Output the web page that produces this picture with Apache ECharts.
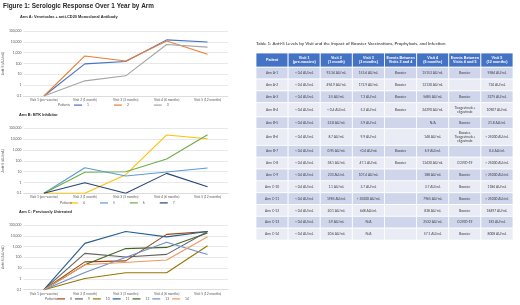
<!DOCTYPE html>
<html><head><meta charset="utf-8">
<script src="https://cdn.jsdelivr.net/npm/echarts@6/dist/echarts.min.js"></script>
<style>html,body{margin:0;padding:0;background:#fff}#c{width:520px;height:305px}</style>
</head><body><div id="c"></div>
<script>
// ---- chart data ----
const visits = ['Visit 1 (pre-vaccine)', 'Visit 2 (1 month)', 'Visit 3 (3 months)', 'Visit 4 (6 months)', 'Visit 5 (12 months)'];
const armAPatients = ['1', '2', '3'];
const patient1 = [0.1, 92.34, 153.6, 15153, 9584];
const patient2 = [0.1, 494.9, 172.9, 12130, 724];
const patient3 = [0.1, 2.5, 7.3, 5685, 3275];
const armBPatients = ['4', '5', '6', '7'];
const patient4 = [0.1, 0.1, 5.2, 24290, 10907];
const patient5 = [0.1, 22.8, 3.9, null, 21.8];
const patient6 = [0.1, 8.7, 9.9, 148, 25000];
const patient7 = [0.1, 0.95, 0.1, 6.9, 0.4];
const armCPatients = ['8', '9', '10', '11', '12', '13', '14'];
const patient8 = [0.1, 38.1, 47.1, 13430, 25000];
const patient9 = [0.1, 233, 107.4, 188, 25000];
const patient10 = [0.1, 1.1, 3.7, 3.7, 1186];
const patient11 = [0.1, 1985, 25000, 7965, 25000];
const patient12 = [0.1, 20.1, 648, 838, 18497];
const patient13 = [0.1, 3.9, null, 2532, 181];
const patient14 = [0.1, 20.6, null, 57.1, 8008];

// ---- table data ----
const tableColumns = ['Patient', 'Visit 1\n(pre-vaccine)', 'Visit 2\n(1 month)', 'Visit 3\n(3 months)', 'Events Between\nVisits 3 and 4', 'Visit 4\n(6 months)', 'Events Between\nVisits 4 and 5', 'Visit 5\n(12 months)'];
const tableRows = [
  ['Arm A-1', '< 0.4 AU/mL', '92.34 AU/mL', '153.6 AU/mL', 'Booster', '15153 AU/mL', 'Booster', '9584 AU/mL'],
  ['Arm A-2', '< 0.4 AU/mL', '494.9 AU/mL', '172.9 AU/mL', 'Booster', '12130 AU/mL', '', '724 AU/mL'],
  ['Arm A-3', '< 0.4 AU/mL', '2.5 AU/mL', '7.3 AU/mL', 'Booster', '5685 AU/mL', 'Booster', '3275 AU/mL'],
  ['Arm B-4', '< 0.4 AU/mL', '< 0.4 AU/mL', '5.2 AU/mL', 'Booster', '24290 AU/mL', 'Tixagevimab +\ncilgavimab', '10907 AU/mL'],
  ['Arm B-5', '< 0.4 AU/mL', '22.8 AU/mL', '3.9 AU/mL', '', 'N/A', 'Booster', '21.8 AU/mL'],
  ['Arm B-6', '< 0.4 AU/mL', '8.7 AU/mL', '9.9 AU/mL', '', '148 AU/mL', 'Booster,\nTixagevimab +\ncilgavimab', '> 25000 AU/mL'],
  ['Arm B-7', '< 0.4 AU/mL', '0.95 AU/mL', '<0.4 AU/mL', 'Booster', '6.9 AU/mL', '', '0.4 AU/mL'],
  ['Arm C-8', '< 0.4 AU/mL', '38.1 AU/mL', '47.1 AU/mL', 'Booster', '13430 AU/mL', 'COVID-19', '> 25000 AU/mL'],
  ['Arm C-9', '< 0.4 AU/mL', '233 AU/mL', '107.4 AU/mL', '', '188 AU/mL', 'Booster', '> 25000 AU/mL'],
  ['Arm C-10', '< 0.4 AU/mL', '1.1 AU/mL', '3.7 AU/mL', '', '3.7 AU/mL', 'Booster', '1186 AU/mL'],
  ['Arm C-11', '< 0.4 AU/mL', '1985 AU/mL', '> 25000 AU/mL', '', '7965 AU/mL', 'Booster', '> 25000 AU/mL'],
  ['Arm C-12', '< 0.4 AU/mL', '20.1 AU/mL', '648 AU/mL', '', '838 AU/mL', 'Booster', '18497 AU/mL'],
  ['Arm C-13', '< 0.4 AU/mL', '3.9 AU/mL', 'N/A', '', '2532 AU/mL', 'COVID-19', '181 AU/mL'],
  ['Arm C-14', '< 0.4 AU/mL', '20.6 AU/mL', 'N/A', '', '57.1 AU/mL', 'Booster', '8008 AU/mL']
];

// ---- build ----
const FONT = 'Lato, "Open Sans", sans-serif';
const BOLD = '"Liberation Sans", Arial, sans-serif';
const AX = '#595959';
const armAColors = ['#4472C4', '#ED7D31', '#A5A5A5'];
const armBColors = ['#FFC000', '#5B9BD5', '#70AD47', '#264478'];
const armCColors = ['#9E480E', '#636363', '#997300', '#255E91', '#43682B', '#698ED0', '#F1975A'];
const armAData = [patient1, patient2, patient3];
const armBData = [patient4, patient5, patient6, patient7];
const armCData = [patient8, patient9, patient10, patient11, patient12, patient13, patient14];

const lineGrids = [
  {left: 19, top: 31, width: 209, height: 65},
  {left: 19, top: 128.3, width: 209, height: 65},
  {left: 19, top: 225, width: 209, height: 64.7}
];
const tableGrid = {left: 256, top: 53, width: 257, height: 187};

const xAxes = [], yAxes = [], series = [];
lineGrids.forEach(function (g, i) {
  xAxes.push({type: 'category', gridIndex: i, data: visits, boundaryGap: true,
    axisLine: {lineStyle: {color: '#D9D9D9', width: 0.7}}, axisTick: {show: false},
    axisLabel: {fontSize: 3.3, color: AX, margin: 2.5, interval: 0, fontFamily: FONT}});
  yAxes.push({type: 'log', logBase: 10, gridIndex: i, min: 0.1, max: 100000,
    axisLine: {show: false}, axisTick: {show: false},
    splitLine: {lineStyle: {color: '#D9D9D9', width: 0.6}},
    axisLabel: {fontSize: 3.4, color: AX, margin: 2, fontFamily: FONT},
    name: 'Anti-S (AU/mL)', nameLocation: 'middle', nameGap: 13, nameRotate: 90,
    nameTextStyle: {fontSize: 3.5, color: AX, fontFamily: FONT}});
});
function addArm(names, datas, colors, idx) {
  names.forEach(function (n, k) {
    series.push({type: 'line', name: n, data: datas[k], xAxisIndex: idx, yAxisIndex: idx,
      symbol: 'none', showSymbol: false, connectNulls: true, animation: false,
      lineStyle: {width: 1.1, color: colors[k]}, itemStyle: {color: colors[k]}});
  });
}
addArm(armAPatients, armAData, armAColors, 0);
addArm(armBPatients, armBData, armBColors, 1);
addArm(armCPatients, armCData, armCColors, 2);

// table on its own grid
xAxes.push({type: 'value', gridIndex: 3, min: 0, max: tableColumns.length, show: false});
const allRows = [tableColumns].concat(tableRows);
const rowUnits = allRows.map(function (r) {
  return 3.9 + Math.max.apply(null, r.map(function (t) { return t.split('\n').length; }));
});
const totalUnits = rowUnits.reduce(function (a, b) { return a + b; }, 0);
yAxes.push({type: 'value', gridIndex: 3, min: 0, max: totalUnits, inverse: true, show: false});
const cellData = [], cellText = [];
let acc = 0;
allRows.forEach(function (r, ri) {
  r.forEach(function (t, ci) {
    cellData.push([ci, acc, acc + rowUnits[ri], ri - 1]);
    cellText.push(t);
  });
  acc += rowUnits[ri];
});
series.push({type: 'custom', xAxisIndex: 3, yAxisIndex: 3, data: cellData, animation: false,
  encode: {x: 0, y: [1, 2]},
  renderItem: function (params, api) {
    const c = api.value(0), y0 = api.value(1), y1 = api.value(2), ri = api.value(3);
    const p0 = api.coord([c, y0]), p1 = api.coord([c + 1, y1]);
    const header = ri < 0;
    const fill = header ? '#4472C4' : (ri % 2 === 0 ? '#CFD5EA' : '#E9EBF5');
    return {type: 'group', children: [
      {type: 'rect', shape: {x: p0[0], y: p0[1], width: p1[0] - p0[0], height: p1[1] - p0[1]},
        style: {fill: fill, stroke: '#FFFFFF', lineWidth: 0.8}},
      {type: 'text', x: (p0[0] + p1[0]) / 2, y: (p0[1] + p1[1]) / 2,
        style: {text: cellText[params.dataIndex], align: 'center', verticalAlign: 'middle',
          fontSize: header ? 3.7 : 3.3, lineHeight: header ? 4.4 : 4, fontWeight: header ? 'bold' : 'normal',
          fill: header ? '#FFFFFF' : '#404040', fontFamily: header ? BOLD : FONT}}
    ]};
  }});

const legendBase = {orient: 'horizontal', icon: 'rect', itemWidth: 8, itemHeight: 1.2,
  textStyle: {fontSize: 3.3, color: AX, fontFamily: FONT}, padding: 0};
const option = {
  backgroundColor: '#FFFFFF',
  animation: false,
  title: [
    {text: 'Figure 1: Serologic Response Over 1 Year by Arm', left: 3, top: 3.5, padding: 0,
      textStyle: {fontSize: 6.4, fontWeight: 'bold', color: '#262626', fontFamily: BOLD}},
    {text: 'Arm A: Venetoclax + anti-CD20 Monoclonal Antibody', left: 20, top: 15, padding: 0,
      textStyle: {fontSize: 3.9, fontWeight: 'bold', color: '#262626', fontFamily: BOLD}},
    {text: 'Arm B: BTK Inhibitor', left: 19, top: 113, padding: 0,
      textStyle: {fontSize: 3.9, fontWeight: 'bold', color: '#262626', fontFamily: BOLD}},
    {text: 'Arm C: Previously Untreated', left: 19, top: 209.5, padding: 0,
      textStyle: {fontSize: 3.9, fontWeight: 'bold', color: '#262626', fontFamily: BOLD}},
    {text: 'Table 1: Anti-S Levels by Visit and the Impact of Booster Vaccinations, Prophylaxis, and Infection', left: 256, top: 41, padding: 0,
      textStyle: {fontSize: 4.5, fontWeight: 'normal', color: '#262626', fontFamily: FONT}},
    {text: 'Patients', left: 58, top: 103.6, padding: 0, textStyle: {fontSize: 3.4, color: AX, fontWeight: 'normal', fontFamily: FONT}},
    {text: 'Patients', left: 60, top: 201.4, padding: 0, textStyle: {fontSize: 3.4, color: AX, fontWeight: 'normal', fontFamily: FONT}},
    {text: 'Patients', left: 45, top: 297.4, padding: 0, textStyle: {fontSize: 3.4, color: AX, fontWeight: 'normal', fontFamily: FONT}}
  ],
  legend: [
    Object.assign({}, legendBase, {data: armAPatients, left: 74, top: 103.6, itemGap: 25}),
    Object.assign({}, legendBase, {data: armBPatients, left: 70, top: 201.4, itemGap: 15}),
    Object.assign({}, legendBase, {data: armCPatients, left: 57, top: 297.4, itemGap: 3})
  ],
  grid: lineGrids.concat([tableGrid]),
  xAxis: xAxes,
  yAxis: yAxes,
  series: series
};
const chart = echarts.init(document.getElementById('c'));
chart.setOption(option);
</script>
</body></html>
